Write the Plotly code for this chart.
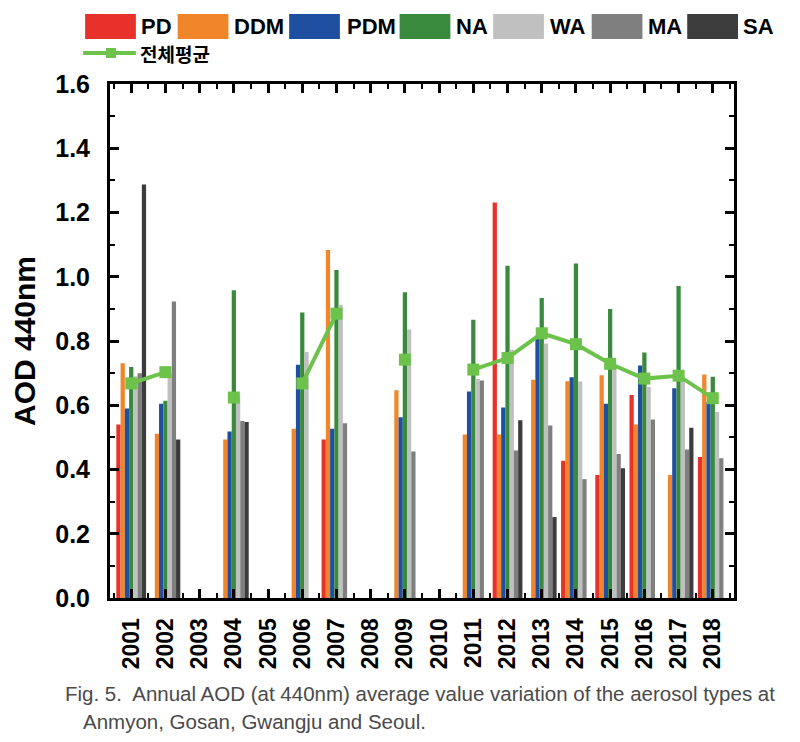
import plotly.graph_objects as go

years = ["2001", "2002", "2003", "2004", "2005", "2006", "2007", "2008", "2009",
         "2010", "2011", "2012", "2013", "2014", "2015", "2016", "2017", "2018"]

PD  = [0.540, None, None, None, None, None, 0.493, None, None, None, None, 1.231, None, 0.427, 0.383, 0.632, None, 0.439]
DDM = [0.731, 0.511, None, 0.493, None, 0.527, 1.083, None, 0.647, None, 0.509, 0.509, 0.679, 0.675, 0.693, 0.540, 0.383, 0.696]
PDM = [0.590, 0.605, None, 0.518, None, 0.726, 0.527, None, 0.563, None, 0.643, 0.593, 0.808, 0.687, 0.605, 0.724, 0.653, 0.609]
NA  = [0.719, 0.614, None, 0.958, None, 0.889, 1.021, None, 0.952, None, 0.866, 1.034, 0.934, 1.041, 0.900, 0.764, 0.971, 0.689]
WA  = [0.690, 0.700, None, 0.626, None, 0.766, 0.913, None, 0.836, None, 0.682, 0.773, 0.792, 0.674, 0.720, 0.657, 0.685, 0.579]
MA  = [0.700, 0.923, None, 0.551, None, None, 0.544, None, 0.456, None, 0.677, 0.459, 0.537, 0.370, 0.448, 0.556, 0.462, 0.435]
SA  = [1.287, 0.493, None, 0.548, None, None, None, None, None, None, None, 0.553, 0.252, None, 0.404, None, 0.530, None]
AVG = [0.668, 0.703, None, 0.624, None, 0.668, 0.885, None, 0.742, None, 0.711, 0.747, 0.824, 0.790, 0.729, 0.683, 0.692, 0.622]

series_names = ["PD", "DDM", "PDM", "NA", "WA", "MA", "SA"]
series_vals = [PD, DDM, PDM, NA, WA, MA, SA]
colors = ["#e8312a", "#f0852a", "#1f4fa0", "#3a8a3e", "#c0c0c0", "#7f7f7f", "#3c3c3c"]
avg_name = "전체평균"
avg_color = "#6cc24a"

OFF = 8  # page body margin
W, H = 800 - OFF, 742 - OFF
L, R, T, B = 107 - OFF, 734 - OFF, 84 - OFF, 598 - OFF  # plot area in page pixels

xs = list(range(len(years)))

fig = go.Figure()
for name, vals, c in zip(series_names, series_vals, colors):
    fig.add_trace(go.Bar(x=xs, y=vals, name=name, marker=dict(color=c, line=dict(width=0)),
                         showlegend=False))
fig.add_trace(go.Scatter(x=xs, y=AVG, name=avg_name, mode="lines+markers",
                         line=dict(color=avg_color, width=4),
                         marker=dict(symbol="square", size=12, color=avg_color),
                         connectgaps=False, showlegend=False))

def px(x):
    return (x - OFF - L) / (R - L)

def py(y):
    return (B - (y - OFF)) / (B - T)

shapes = []
annotations = []
legend_items = [(82, 136), (175, 230), (287, 343), (398, 453), (492, 547), (591, 646), (687, 741)]
for (sx, tx), name, c in zip(legend_items, series_names, colors):
    shapes.append(dict(type="rect", xref="paper", yref="paper",
                       x0=px(sx), x1=px(sx + 51), y0=py(39), y1=py(14),
                       fillcolor=c, line=dict(width=0)))
    annotations.append(dict(xref="paper", yref="paper", x=px(tx), y=py(27),
                            xanchor="left", yanchor="middle", text=name, showarrow=False,
                            font=dict(family="Liberation Sans", size=22, color="black", weight="bold")))
shapes.append(dict(type="line", xref="paper", yref="paper", x0=px(80), x1=px(133),
                   y0=py(53), y1=py(53), line=dict(color=avg_color, width=4)))
shapes.append(dict(type="rect", xref="paper", yref="paper", x0=px(103), x1=px(113),
                   y0=py(58), y1=py(48), fillcolor=avg_color, line=dict(width=0)))
annotations.append(dict(xref="paper", yref="paper", x=px(135), y=py(53),
                        xanchor="left", yanchor="middle", text=avg_name, showarrow=False,
                        font=dict(family="Noto Sans CJK KR", size=19, color="black", weight="bold")))
annotations.append(dict(xref="paper", yref="paper", x=px(60), y=py(693),
                        xanchor="left", yanchor="middle",
                        text="Fig. 5.  Annual AOD (at 440nm) average value variation of the aerosol types at",
                        showarrow=False,
                        font=dict(family="Liberation Sans", size=20.5, color="#4a4a4a")))
annotations.append(dict(xref="paper", yref="paper", x=px(78), y=py(721),
                        xanchor="left", yanchor="middle",
                        text="Anmyon, Gosan, Gwangju and Seoul.",
                        showarrow=False,
                        font=dict(family="Liberation Sans", size=20.5, color="#4a4a4a")))

fig.update_layout(
    width=W, height=H,
    margin=dict(l=L, r=W - R, t=T, b=H - B, pad=0),
    paper_bgcolor="white", plot_bgcolor="white",
    barmode="group", bargap=0.13, bargroupgap=0,
    shapes=shapes, annotations=annotations,
    font=dict(family="Liberation Sans", color="black"),
)
fig.update_xaxes(
    range=[-0.62, 17.62], tickmode="array", tickvals=xs, ticktext=years,
    tickangle=-90, ticks="inside", ticklen=9, tickwidth=3, tickcolor="black",
    minor=dict(tickmode="linear", tick0=0.5, dtick=1, ticks="inside", ticklen=5,
               tickwidth=2, tickcolor="black"),
    showline=True, linewidth=3, linecolor="black", mirror="ticks",
    showgrid=False, zeroline=False, ticklabelstandoff=8,
    tickfont=dict(family="Liberation Sans", size=23, color="black", weight="bold"),
)
fig.update_yaxes(
    range=[0, 1.6], tickmode="linear", tick0=0, dtick=0.2, tickformat=".1f",
    ticks="inside", ticklen=9, tickwidth=3, tickcolor="black",
    minor=dict(tickmode="linear", tick0=0.1, dtick=0.2, ticks="inside", ticklen=5,
               tickwidth=2, tickcolor="black"),
    showline=True, linewidth=3, linecolor="black", mirror="ticks",
    showgrid=False, zeroline=False, ticklabelstandoff=12,
    tickfont=dict(family="Liberation Sans", size=25, color="black", weight="bold"),
    title=dict(text="AOD 440nm", standoff=14,
               font=dict(family="Liberation Sans", size=30, color="black", weight="bold")),
)

fig.write_html("out.html")
